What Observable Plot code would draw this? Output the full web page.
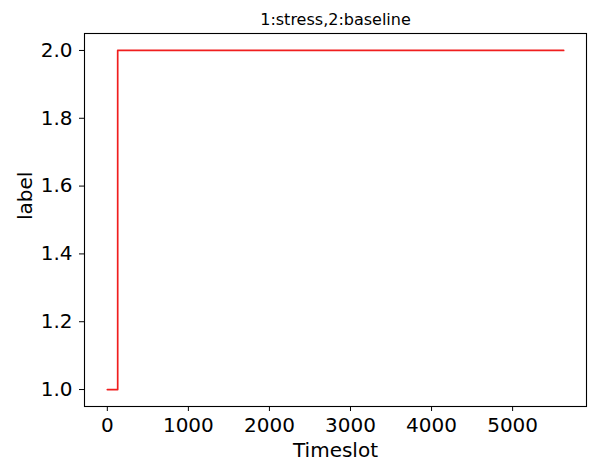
<!DOCTYPE html>
<html>
<head>
<meta charset="utf-8">
<script src="https://cdn.jsdelivr.net/npm/d3@7"></script>
<script src="https://cdn.jsdelivr.net/npm/@observablehq/plot@0.6"></script>
<style>
  html, body { margin: 0; padding: 0; background: #fff; }
  svg { display: block; }
</style>
</head>
<body>
<div id="chart"></div>
<script>
const timeslots = [0, 128, 5630];
const labels = [1, 2, 2];
const xTicks = [0, 1000, 2000, 3000, 4000, 5000];
const yTicks = [1.0, 1.2, 1.4, 1.6, 1.8, 2.0];
const title = "1:stress,2:baseline";
const xLabel = "Timeslot";
const yLabel = "label";

const data = timeslots.map((t, i) => ({t, v: labels[i]}));
const xmin = d3.min(timeslots), xmax = d3.max(timeslots);
const xpad = (xmax - xmin) * 0.05;
const ymin = d3.min(labels), ymax = d3.max(labels);
const ypad = (ymax - ymin) * 0.05;

const font = "'DejaVu Sans', sans-serif";
const chart = Plot.plot({
  width: 599,
  height: 464,
  marginLeft: 84,
  marginRight: 13,
  marginTop: 33,
  marginBottom: 58,
  style: {fontFamily: font, background: "#fff", color: "#000"},
  x: {domain: [xmin - xpad, xmax + xpad]},
  y: {domain: [ymin - ypad, ymax + ypad]},
  marks: [
    Plot.frame({stroke: "#000", strokeWidth: 1.1}),
    Plot.lineY(data, {x: "t", y: "v", curve: "step-after", stroke: "#f01e1e", strokeWidth: 1.7}),
    Plot.axisX({ticks: xTicks, tickSize: 5, tickPadding: 6, fontSize: 20, fontFamily: font, tickFormat: d3.format("d"), label: null}),
    Plot.axisY({ticks: yTicks, tickSize: 5, tickPadding: 7, fontSize: 20, fontFamily: font, tickFormat: d3.format(".1f"), label: null}),
    Plot.text([xLabel], {frameAnchor: "bottom", dy: 50, fontSize: 20, fontFamily: font, text: d => d, fill: "#000"}),
    Plot.text([yLabel], {frameAnchor: "left", dx: -59, rotate: -90, fontSize: 20, fontFamily: font, text: d => d, fill: "#000"}),
    Plot.text([title], {frameAnchor: "top", dy: -20, fontSize: 16, fontFamily: font, text: d => d, fill: "#000"})
  ]
});
document.getElementById("chart").appendChild(chart);
</script>
</body>
</html>
